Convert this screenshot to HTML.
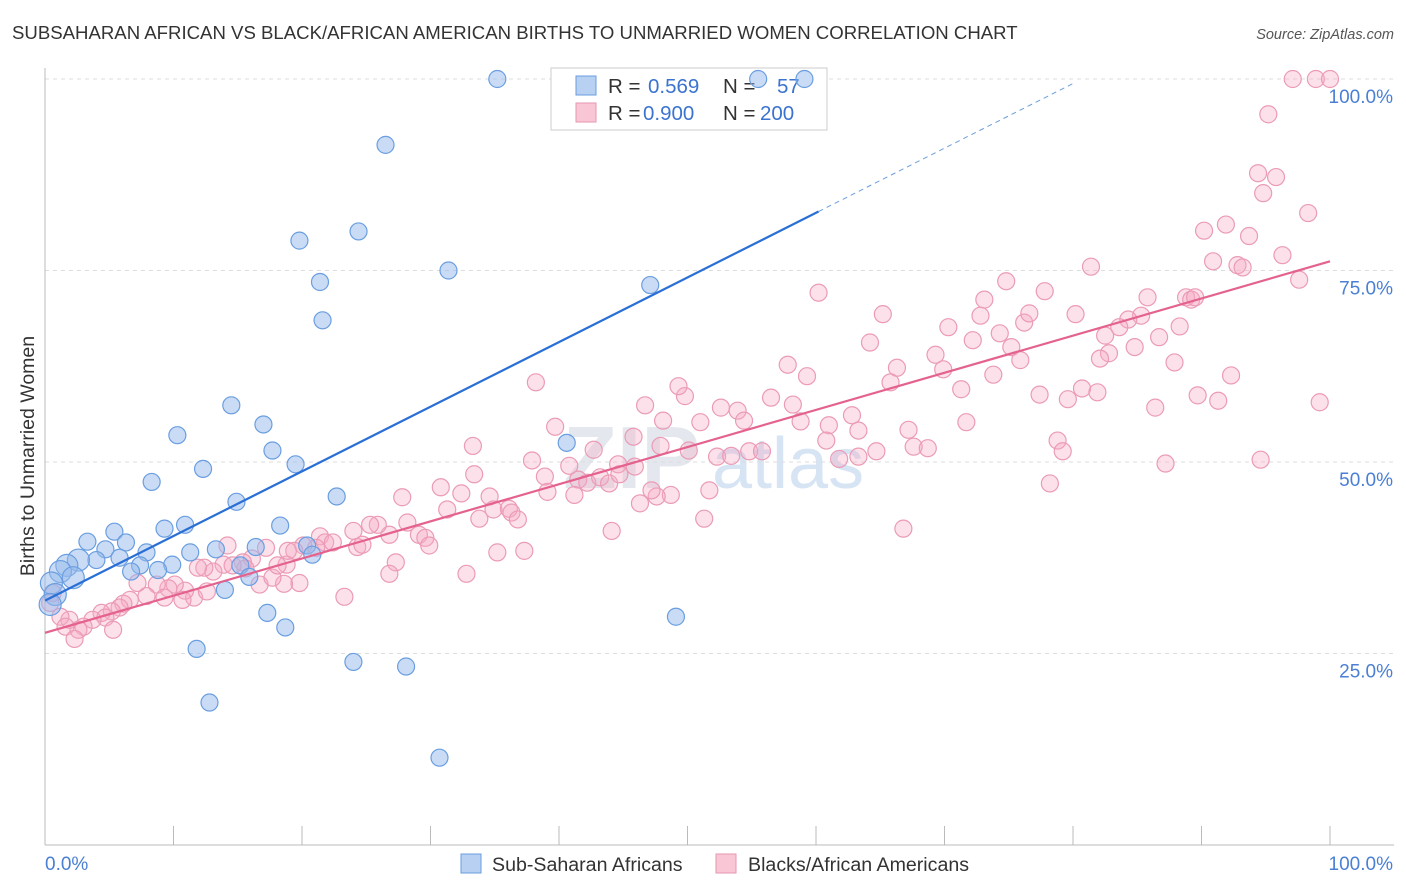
<!DOCTYPE html>
<html><head><meta charset="utf-8">
<style>
body{margin:0;background:#fff;font-family:"Liberation Sans",sans-serif;}
svg{display:block}
</style></head>
<body>
<svg id="chart" width="1406" height="892" viewBox="0 0 1406 892">
<text x="12" y="39" font-size="18.6" fill="#333">SUBSAHARAN AFRICAN VS BLACK/AFRICAN AMERICAN BIRTHS TO UNMARRIED WOMEN CORRELATION CHART</text>
<text x="1394" y="39" font-size="14.5" fill="#555" font-style="italic" text-anchor="end">Source: ZipAtlas.com</text>
<text x="700" y="488" font-size="88" fill="#e4e8ee" text-anchor="end" font-weight="bold">ZIP</text>
<text x="712" y="488" font-size="72" fill="#d6e4f4">atlas</text>
<g id="grid"></g>
<g id="axes"></g>
<g>
<rect x="551" y="68" width="276" height="62" fill="#fff" stroke="#ccc"/>
<rect x="576" y="76" width="20" height="19" fill="#b8d0f2" stroke="#6a9ee0"/>
<rect x="576" y="103" width="20" height="19" fill="#f9c6d6" stroke="#e896b0"/>
<text x="608" y="93" font-size="20.5" fill="#333">R =</text>
<text x="648" y="93" font-size="20.5" fill="#3a74d0">0.569</text>
<text x="723" y="93" font-size="20.5" fill="#333">N =</text>
<text x="777" y="93" font-size="20.5" fill="#3a74d0">57</text>
<text x="608" y="120" font-size="20.5" fill="#333">R =</text>
<text x="643" y="120" font-size="20.5" fill="#3a74d0">0.900</text>
<text x="723" y="120" font-size="20.5" fill="#333">N =</text>
<text x="760" y="120" font-size="20.5" fill="#3a74d0">200</text>
</g>
<g id="pinkPts"></g>
<g id="bluePts"></g>
<g id="lines"></g>
<text x="34" y="456" font-size="19.5" fill="#333" transform="rotate(-90 34 456)" text-anchor="middle">Births to Unmarried Women</text>
<g>
<rect x="461" y="854" width="20" height="19" fill="#b8d0f2" stroke="#6a9ee0"/>
<text x="492" y="871" font-size="19.6" fill="#333">Sub-Saharan Africans</text>
<rect x="716" y="854" width="20" height="19" fill="#f9c6d6" stroke="#e896b0"/>
<text x="748" y="871" font-size="19.6" fill="#333">Blacks/African Americans</text>
</g>
</svg>
<script>
const blueX=[35.2,55.5,59.1,26.5,19.8,24.4,21.4,31.4,21.6,47.1,14.5,10.3,17.0,12.3,17.7,19.5,8.3,14.9,22.7,40.6,10.9,9.3,5.4,18.3,3.3,6.3,4.7,7.9,13.3,16.4,20.4,20.8,11.3,4.0,5.8,2.6,1.7,7.4,9.9,8.8,6.7,15.2,15.9,14.0,1.2,2.2,0.5,0.8,0.4,17.3,18.7,11.8,24.0,28.1,49.1,12.8,30.7];
const blueY=[100,100,100,91.4,78.9,80.1,73.5,75.0,68.5,73.1,57.4,53.5,54.9,49.1,51.5,49.7,47.4,44.8,45.5,52.5,41.8,41.3,40.9,41.7,39.6,39.5,38.6,38.2,38.6,38.9,39.1,37.9,38.2,37.2,37.5,37.2,36.5,36.5,36.6,35.9,35.7,36.5,35.0,33.3,35.7,34.9,34.2,32.7,31.4,30.3,28.4,25.6,23.9,23.3,29.8,18.6,11.4];
const pinkX=[97.1,98.9,100,95.2,94.4,95.8,94.8,98.3,91.9,90.2,93.7,90.9,96.3,92.8,93.2,97.6,88.8,89.2,85.8,81.4,74.8,77.8,60.2,88.3,86.7,85.3,84.3,83.6,82.5,80.2,73.1,72.8,76.2,76.6,70.3,74.3,72.2,65.2,75.2,84.8,82.8,82.1,75.9,69.3,73.8,66.3,69.9,71.3,65.8,64.2,57.8,59.3,87.9,92.3,77.4,80.7,81.9,79.6,89.7,91.3,99.2,86.4,71.7,67.2,62.8,61.0,58.2,56.5,52.6,53.9,54.4,58.8,60.8,63.3,64.7,67.6,68.7,63.3,61.8,54.8,55.8,52.3,53.4,50.1,51.0,48.1,49.8,49.3,46.7,45.8,42.7,44.6,45.9,47.9,48.7,47.6,51.7,51.3,46.3,44.1,47.2,78.8,79.2,87.2,94.6,78.2,66.8,38.2,39.7,37.9,39.1,40.8,41.5,42.2,43.2,43.9,44.7,41.2,38.9,33.3,33.4,30.8,32.4,31.3,34.6,34.9,36.1,36.3,36.8,33.8,27.8,28.2,29.1,29.6,29.9,26.8,25.9,25.3,24.0,24.3,24.7,21.4,21.8,21.1,20.1,19.4,22.4,35.2,37.3,32.8,27.3,26.8,23.3,19.8,18.6,18.8,17.2,16.1,15.4,16.7,17.7,15.6,14.2,13.9,13.1,12.4,11.9,11.6,10.9,10.1,9.6,8.7,7.9,7.2,6.6,6.1,5.8,5.2,4.4,4.7,3.7,3.0,2.6,1.9,1.2,1.6,2.3,5.3,10.7,9.3,12.6,0.4,0.6,14.6,18.1,18.9,89.5];
const pinkY=[100,100,100,95.4,87.7,87.2,85.1,82.5,81.0,80.2,79.5,76.2,77.0,75.7,75.4,73.8,71.5,71.2,71.5,75.5,73.6,72.3,72.1,67.7,66.3,69.1,68.6,67.6,66.5,69.3,71.2,69.1,68.2,69.4,67.6,66.8,65.9,69.3,65.0,65.0,64.2,63.5,63.3,64.0,61.4,62.3,62.1,59.5,60.4,65.6,62.7,61.2,63.0,61.3,58.8,59.6,59.1,58.2,58.7,58.0,57.8,57.1,55.2,54.2,56.1,54.8,57.5,58.4,57.1,56.7,55.4,55.3,52.8,54.1,51.4,52.0,51.8,50.7,50.4,51.4,51.4,50.7,50.8,51.5,55.2,55.4,58.6,59.9,57.4,53.3,51.6,49.7,49.4,52.1,45.7,45.5,46.3,42.6,44.6,41.0,46.3,52.8,51.4,49.8,50.3,47.2,41.3,60.4,54.6,50.2,46.1,49.5,47.7,47.3,48.0,47.2,48.4,45.7,48.1,52.1,48.4,46.7,45.9,43.8,45.5,43.8,43.9,43.4,42.5,42.6,45.4,42.1,40.5,40.1,39.1,40.5,41.8,41.8,41.0,38.9,39.2,40.3,39.5,38.8,39.1,38.4,39.5,38.2,38.4,35.4,36.9,35.4,32.4,34.2,34.1,36.6,38.8,37.4,36.9,34.0,34.9,36.1,39.1,36.6,35.7,36.2,36.2,32.3,33.2,34.0,33.5,34.0,32.5,34.2,32.0,31.5,31.0,30.5,30.3,29.7,29.4,28.5,28.1,29.4,29.8,28.5,26.9,28.1,32.0,32.3,33.1,31.6,32.9,36.5,36.5,38.4,71.5];
const blueTrend=[31.9,82.7];
const blueTrendX=[0,60.2,80];
const pinkTrend=[27.7,76.2];
const yTicks=[25,50,75,100];
const yTickLabels=["25.0%","50.0%","75.0%","100.0%"];

const NS="http://www.w3.org/2000/svg";
const X0=45,X1=1330,Y0=845,Y1=79;
const sx=v=>X0+(X1-X0)*v/100;
const sy=v=>Y0-(Y0-Y1)*v/100;
function mk(tag,attrs,parent){const e=document.createElementNS(NS,tag);for(const k in attrs)e.setAttribute(k,attrs[k]);parent.appendChild(e);return e;}
const grid=document.getElementById('grid'),axes=document.getElementById('axes');
yTicks.forEach((t,i)=>{
  const l=mk('line',{x1:X0,x2:1394,y1:sy(t),y2:sy(t),stroke:'#ddd','stroke-dasharray':'4,4'},grid);
  
  
  const tx=mk('text',{x:1393,y:sy(t)+24,'font-size':19,fill:'#4a7fd4','text-anchor':'end'},axes);
  tx.textContent=yTickLabels[i];
  
  
});
const al=mk('line',{x1:X0,x2:X0,y1:68,y2:Y0,stroke:'#bbb'},axes);


const xl=mk('line',{x1:X0,x2:1394,y1:Y0,y2:Y0,stroke:'#bbb'},axes);


for(let i=0;i<=10;i++){
  const tk=mk('line',{x1:sx(i*10),x2:sx(i*10),y1:826,y2:Y0,stroke:'#bbb'},axes);
  
  
}
[[0,"0.0%","start",X0],[100,"100.0%","end",1393]].forEach(a=>{
  const t=mk('text',{x:a[3],y:870,'font-size':19,fill:'#4a7fd4','text-anchor':a[2]},axes);
  t.textContent=a[1];
  
  
});
const pg=document.getElementById('pinkPts');
pinkX.forEach((x,i)=>{
  const c=mk('circle',{cx:sx(x),cy:sy(pinkY[i]),r:8.5,fill:'rgba(246,170,196,0.35)',stroke:'#eb9bb6','stroke-width':1.2},pg);
  
  
});
const bg=document.getElementById('bluePts');
blueX.forEach((x,i)=>{
  const c=mk('circle',{cx:sx(x),cy:sy(blueY[i]),r:x<3?11:8.5,fill:'rgba(150,186,236,0.5)',stroke:'#6a9ee0','stroke-width':1.2},bg);
  
  
});
const lg=document.getElementById('lines');
const slope=(blueTrend[1]-blueTrend[0])/blueTrendX[1];
const bl=mk('line',{x1:sx(0),y1:sy(blueTrend[0]),x2:sx(blueTrendX[1]),y2:sy(blueTrend[1]),stroke:'#2a6fd6','stroke-width':2.2},lg);


const bd=mk('line',{x1:sx(blueTrendX[1]),y1:sy(blueTrend[1]),x2:sx(blueTrendX[2]),y2:sy(blueTrend[0]+slope*blueTrendX[2]),stroke:'#6a9ee0','stroke-width':1,'stroke-dasharray':'5,4'},lg);


const pl=mk('line',{x1:sx(0),y1:sy(pinkTrend[0]),x2:sx(100),y2:sy(pinkTrend[1]),stroke:'#e4628e','stroke-width':2.2},lg);


</script>
</body></html>
